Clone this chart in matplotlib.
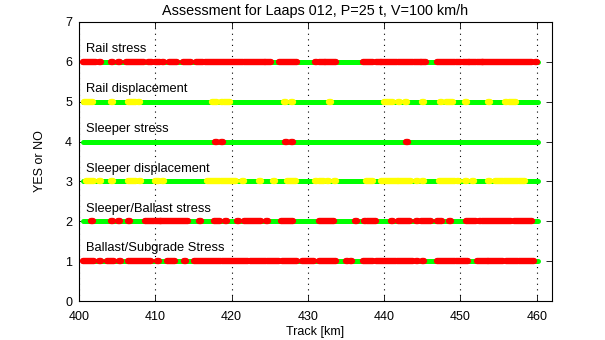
import matplotlib
matplotlib.use("Agg")
import matplotlib.pyplot as plt

plt.rcParams['font.family'] = ['Liberation Sans', 'DejaVu Sans']

title = "Assessment for Laaps 012, P=25 t, V=100 km/h"
xlabel = "Track [km]"
ylabel = "YES or NO"
row_names = ["Ballast/Subgrade Stress", "Sleeper/Ballast stress", "Sleeper displacement",
             "Sleeper stress", "Rail displacement", "Rail stress"]
row_levels = [1, 2, 3, 4, 5, 6]
track_start = 400.55
track_end = 460.2

# flagged intervals (km) per row; colour per row
rail_stress = [(400.6, 402.1), (402.75, 402.75), (404.3, 404.3), (405.3, 405.3), (406.3, 408.4),
               (409.2, 409.5), (410.1, 410.5), (411.0, 411.0), (411.9, 412.7), (413.7, 414.5),
               (415.4, 416.1), (416.7, 421.4), (421.8, 424.2), (424.5, 425.0), (426.3, 428.5),
               (431.1, 431.1), (431.6, 432.1), (432.4, 433.6), (437.3, 438.4), (439.0, 439.5),
               (439.7, 441.6), (441.9, 443.6), (444.0, 444.7), (444.9, 445.4), (447.1, 449.1),
               (449.5, 450.0), (450.4, 451.0), (451.3, 451.9), (452.3, 452.8), (453.0, 459.3),
               (459.9, 459.9)]
rail_disp = [(400.8, 401.7), (404.3, 404.3), (406.5, 407.3), (407.8, 407.8), (417.6, 418.0),
             (418.7, 418.7), (419.1, 419.6), (427.0, 427.0), (427.9, 427.9), (432.9, 432.9),
             (440.1, 441.0), (442.0, 442.0), (442.9, 442.9), (445.1, 445.1), (447.5, 447.5),
             (448.2, 448.9), (450.7, 450.7), (453.8, 453.8), (456.0, 456.0), (456.5, 457.1)]
sleeper_stress = [(417.9, 417.9), (418.7, 418.7), (427.1, 427.1), (427.9, 427.9), (443.0, 443.0)]
sleeper_disp = [(401.0, 401.9), (402.75, 402.75), (404.3, 404.3), (406.5, 407.3), (408.0, 408.0),
                (410.1, 410.4), (411.0, 411.0), (416.9, 418.3), (418.7, 420.4), (421.5, 421.5),
                (423.7, 423.7), (425.5, 425.5), (427.4, 428.3), (431.1, 431.1), (431.6, 432.0),
                (432.7, 432.7), (433.6, 433.6), (437.7, 438.4), (439.7, 441.7), (442.0, 443.4),
                (444.3, 444.3), (445.1, 445.1), (447.3, 449.1), (449.7, 449.7), (450.7, 450.7),
                (451.7, 451.7), (453.7, 453.7), (454.7, 455.4), (455.8, 457.4), (457.8, 458.3)]
sleeper_ballast = [(401.7, 401.7), (404.3, 404.3), (405.3, 405.3), (406.6, 406.6), (408.8, 409.7),
                   (410.1, 410.6), (410.8, 414.1), (415.9, 415.9), (417.8, 418.3), (419.3, 419.3),
                   (420.9, 420.9), (421.7, 423.7), (424.6, 424.6), (426.6, 427.9), (431.6, 433.3),
                   (436.3, 436.3), (437.5, 437.5), (437.9, 438.8), (441.0, 441.0), (442.0, 443.2),
                   (444.3, 444.3), (444.9, 446.0), (447.1, 447.5), (448.6, 448.6), (450.8, 451.9),
                   (452.5, 452.5), (453.0, 456.5), (457.1, 459.3)]
ballast_subgrade = [(400.6, 401.9), (402.75, 402.75), (403.8, 404.5), (405.4, 405.4), (406.5, 409.3),
                    (410.4, 410.4), (411.7, 412.4), (413.9, 413.9), (415.2, 418.5), (418.9, 422.0),
                    (422.6, 424.4), (424.8, 426.1), (426.8, 428.5), (429.4, 430.7), (431.6, 433.6),
                    (435.1, 435.1), (435.7, 435.7), (437.3, 438.4), (439.0, 441.4), (441.8, 443.6),
                    (444.3, 444.3), (445.1, 445.1), (447.1, 449.1), (449.5, 450.8), (452.3, 453.5),
                    (453.8, 455.4), (456.1, 457.4), (457.8, 459.5)]

rows = [ballast_subgrade, sleeper_ballast, sleeper_disp, sleeper_stress, rail_disp, rail_stress]
row_colors = ["#ff0000", "#ff0000", "#ffff00", "#ff0000", "#ffff00", "#ff0000"]

fig = plt.figure(figsize=(6.05, 3.4), dpi=100)
ax = fig.add_axes([0.1306, 0.1147, 0.9124 - 0.1306, 0.9353 - 0.1147])

half = 0.13
for level, name, ivs, col in zip(row_levels, row_names, rows, row_colors):
    ax.plot([track_start, track_end], [level, level], color="#00ff00", lw=3.6,
            solid_capstyle="round", zorder=2)
    for a, b in ivs:
        ax.plot([a - half, b + half], [level, level], color=col, lw=4.6,
                solid_capstyle="round", zorder=3)
    ax.text(400.9, level + 0.32, name, fontsize=9.3, va="center", ha="left", zorder=4)

ax.set_xlim(400, 462)
ax.set_ylim(0, 7)
ax.set_xticks([400, 410, 420, 430, 440, 450, 460])
ax.set_yticks([0, 1, 2, 3, 4, 5, 6, 7])
ax.tick_params(direction="in", top=True, right=True, labelsize=9, length=4, width=0.6)
ax.tick_params(axis="x", pad=7)
ax.tick_params(axis="y", pad=5)
ax.xaxis.grid(True, linestyle=(0, (1, 4)), color="black", lw=0.8)
ax.set_axisbelow(True)
for s in ax.spines.values():
    s.set_linewidth(0.8)
ax.set_title(title, fontsize=10.4, pad=5)
ax.set_xlabel(xlabel, fontsize=9, labelpad=2)
ax.set_ylabel(ylabel, fontsize=9, labelpad=14)

fig.savefig("out.png", dpi=100)
